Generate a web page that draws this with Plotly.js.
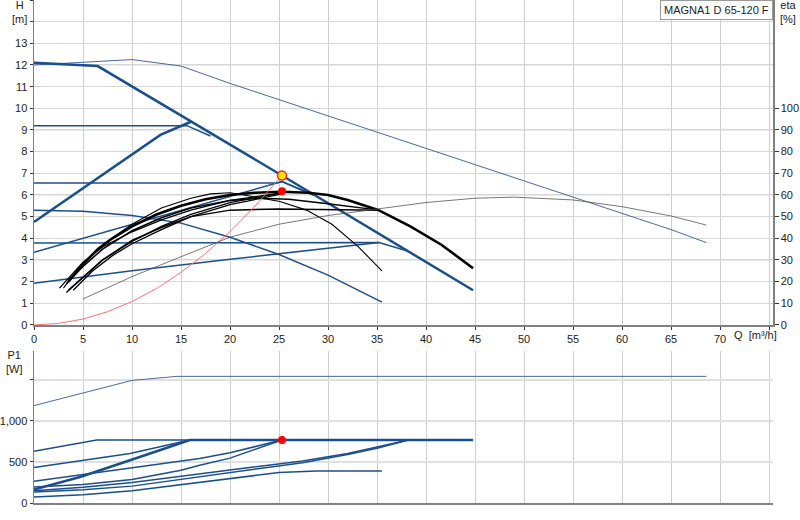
<!DOCTYPE html>
<html>
<head>
<meta charset="utf-8">
<script src="https://cdn.plot.ly/plotly-3.0.1.min.js"></script>
<style>
  html, body { margin: 0; padding: 0; background: #fff; }
  #plot { width: 800px; height: 520px; }
</style>
</head>
<body>
<div id="plot"></div>
<script>
// pump curves, H [m] against Q [m3/h]
const maxQ = [0, 6.5, 25.3, 44.8];
const maxH = [12.1, 11.95, 6.9, 1.6];
const topQ = [0, 10, 15, 20, 25, 30, 35, 40, 47.5, 50, 55, 60, 65, 68.6];
const topH = [12.0, 12.25, 11.95, 11.15, 10.4, 9.65, 8.9, 8.15, 7.0, 6.65, 5.9, 5.15, 4.4, 3.8];
const riseQ = [0, 12.9, 16];
const riseH = [4.75, 8.77, 9.38];
const cp92Q = [0, 15.6, 18];
const cp92H = [9.2, 9.2, 8.72];
const cp65Q = [0, 24.8, 25.3, 28.5];
const cp65H = [6.55, 6.55, 6.62, 6.0];
const pp1Q = [0, 15, 25.3, 28.5];
const pp1H = [3.35, 5.3, 6.62, 6.0];
const lowQ = [0, 5, 10, 15, 20, 25, 30, 35.5];
const lowH = [5.3, 5.25, 5.05, 4.7, 4.05, 3.25, 2.3, 1.05];
const cp38Q = [0, 35.2, 38.2];
const cp38H = [3.78, 3.8, 3.4];
const pp2Q = [0, 10, 20, 35.2];
const pp2H = [1.92, 2.5, 3.03, 3.8];

// black curves
const k1Q = [3.5, 5, 6.5, 8, 10, 12.5, 15, 17.5, 20, 22.5, 25.3, 28, 30, 32, 35.1, 38.4, 41.6, 44.8];
const k1H = [2.0, 2.8, 3.5, 4.0, 4.55, 5.1, 5.5, 5.8, 6.0, 6.1, 6.15, 6.1, 6.0, 5.77, 5.31, 4.55, 3.69, 2.62];
const k2Q = [3, 5, 7, 10, 13, 16, 18, 20, 22, 25.1, 27.8, 30.4, 33.1, 35.5];
const k2H = [1.7, 2.85, 3.7, 4.65, 5.4, 5.85, 6.05, 6.1, 5.95, 5.7, 5.3, 4.65, 3.6, 2.5];
const k3Q = [3.3, 5, 7, 10, 13, 16, 20, 23, 26, 30, 35.2];
const k3H = [1.9, 2.7, 3.5, 4.35, 4.95, 5.4, 5.75, 5.85, 5.8, 5.6, 5.3];
const k4Q = [3.5, 5, 7, 10, 13, 16, 20, 25, 30, 35.2];
const k4H = [1.6, 2.2, 3.0, 3.9, 4.5, 5.0, 5.3, 5.35, 5.33, 5.3];
const k5Q = [2.6, 5, 7, 10, 13, 16, 20, 25.3];
const k5H = [1.7, 2.9, 3.6, 4.3, 4.85, 5.3, 5.75, 6.1];
const k6Q = [3.3, 5, 7, 10, 13, 16, 20, 25.3];
const k6H = [1.5, 2.2, 3.0, 3.85, 4.55, 5.1, 5.65, 6.1];
const k7Q = [4, 6, 8, 10, 13, 16, 20, 25.3];
const k7H = [1.6, 2.5, 3.2, 3.75, 4.4, 5.0, 5.55, 6.05];

// efficiency [%]
const etaQ = [5, 10, 15, 20, 25, 30, 35, 40, 45, 49, 55, 60, 65, 68.6];
const etaV = [12, 22.3, 31.5, 40.5, 46.5, 50.5, 53.5, 56.5, 58.5, 59, 57.7, 54.6, 50.3, 46.1];

// system curve
const sysQ = [0, 2.5, 5, 7.5, 10, 12.5, 15, 17.5, 20, 22.5, 25.3];
const sysH = [0, 0.07, 0.27, 0.61, 1.08, 1.68, 2.43, 3.3, 4.31, 5.46, 6.9];

// duty point
const dutyQ = [25.3];
const dutyH = [6.9];
const dutyEta = [6.17];
const dutyP = [765];

// power P1 [W]
const p1Q = [0, 10, 14.6, 68.6];
const p1V = [1183, 1489, 1538, 1538];
const p2Q = [0, 6.4, 16];
const p2V = [627, 765, 765];
const p3Q = [0, 4.7, 9.8, 15.9, 44.8];
const p3V = [163, 316, 518, 765, 765];
const p4Q = [0, 9.8, 15.9];
const p4V = [430, 600, 765];
const p5Q = [0, 10, 16.9, 20, 25.3];
const p5V = [263, 425, 540, 610, 765];
const p6Q = [0, 5, 10, 15, 16.9, 20, 25.3];
const p6V = [195, 225, 285, 397, 458, 545, 765];
const p7Q = [0, 5, 10, 16.9, 22, 27.4, 32, 35, 38.2];
const p7V = [150, 190, 250, 357, 430, 510, 600, 680, 765];
const p8Q = [0, 5, 10, 16.9, 22, 27.4, 32, 35, 38.2];
const p8V = [134, 160, 205, 316, 400, 490, 590, 665, 765];
const p9Q = [0, 5, 10, 16.9, 20, 25, 28.8, 35.5];
const p9V = [73, 100, 150, 255, 296, 370, 388, 388];

const blue = "#1b4f8c";
const slate = "#4a68a0";

function line(x, y, color, width, xa, ya) {
  return {
    x: x, y: y, mode: "lines", type: "scatter",
    line: { color: color, width: width },
    xaxis: xa || "x", yaxis: ya || "y",
    hoverinfo: "skip", showlegend: false
  };
}

var data = [
  line(topQ, topH, slate, 1),
  line(cp92Q, cp92H, blue, 1.5),
  line(cp65Q, cp65H, blue, 1.5),
  line(pp1Q, pp1H, blue, 1.5),
  line(lowQ, lowH, blue, 1.5),
  line(cp38Q, cp38H, blue, 1.5),
  line(pp2Q, pp2H, blue, 1.5),
  line(riseQ, riseH, blue, 2.5),
  line(maxQ, maxH, blue, 2.5),
  line(etaQ, etaV, "#555555", 0.8, "x", "y2"),
  line(k2Q, k2H, "#000", 1.1),
  line(k3Q, k3H, "#000", 1.5),
  line(k4Q, k4H, "#000", 1.5),
  line(k5Q, k5H, "#000", 1.3),
  line(k6Q, k6H, "#000", 1.3),
  line(k7Q, k7H, "#000", 1.3),
  line(k1Q, k1H, "#000", 2.6),
  line(sysQ, sysH, "#ff7070", 1),
  {
    x: dutyQ, y: dutyEta, mode: "markers", type: "scatter",
    marker: { color: "#ff0000", size: 8 }, hoverinfo: "skip", showlegend: false
  },
  {
    x: dutyQ, y: dutyH, mode: "markers", type: "scatter",
    marker: { color: "#ffe600", size: 9, line: { color: "#ff2020", width: 1.5 } },
    hoverinfo: "skip", showlegend: false
  },
  line(p1Q, p1V, slate, 1, "x2", "y3"),
  line(p2Q, p2V, blue, 1.5, "x2", "y3"),
  line(p4Q, p4V, blue, 1.5, "x2", "y3"),
  line(p5Q, p5V, blue, 1.5, "x2", "y3"),
  line(p6Q, p6V, blue, 1.5, "x2", "y3"),
  line(p7Q, p7V, blue, 1.5, "x2", "y3"),
  line(p8Q, p8V, blue, 1.5, "x2", "y3"),
  line(p9Q, p9V, blue, 1.5, "x2", "y3"),
  line(p3Q, p3V, blue, 2.6, "x2", "y3"),
  {
    x: dutyQ, y: dutyP, mode: "markers", type: "scatter",
    xaxis: "x2", yaxis: "y3",
    marker: { color: "#ff0000", size: 8 }, hoverinfo: "skip", showlegend: false
  }
];

var qTicks = [];
var qText = [];
for (let q = 0; q <= 75; q += 5) {
  qTicks.push(q);
  qText.push(q <= 70 ? String(q) : "");
}
var hTicks = [];
var hText = [];
for (let h = 0; h <= 15; h++) {
  hTicks.push(h);
  hText.push(h <= 13 ? String(h) : "");
}

var layout = {
  width: 800,
  height: 520,
  margin: { l: 34, r: 27, t: 0, b: 17 },
  paper_bgcolor: "#fff",
  plot_bgcolor: "#fff",
  font: { family: "Liberation Sans, Arial, sans-serif", size: 11, color: "#222" },
  showlegend: false,
  xaxis: {
    range: [0, 75.4], anchor: "y",
    tickvals: qTicks, ticktext: qText,
    ticks: "outside", ticklen: 3, tickcolor: "#333",
    showgrid: true, gridcolor: "#cfcfcf", gridwidth: 1,
    showline: true, linecolor: "#808080", linewidth: 2,
    zeroline: false
  },
  yaxis: {
    domain: [0.354, 1], range: [0, 15],
    tickvals: hTicks, ticktext: hText,
    ticks: "outside", ticklen: 3, tickcolor: "#333",
    showgrid: true, gridcolor: "#d6d6d6", gridwidth: 1,
    showline: true, linecolor: "#808080", linewidth: 1.5,
    zeroline: false
  },
  yaxis2: {
    overlaying: "y", side: "right", anchor: "x",
    range: [0, 150],
    tickvals: [0, 10, 20, 30, 40, 50, 60, 70, 80, 90, 100],
    ticks: "outside", ticklen: 4, tickcolor: "#333",
    showgrid: false, zeroline: false,
    minor: { tickvals: [30, 60, 90, 120], ticks: "", showgrid: true,
             gridcolor: "#ebebeb", gridwidth: 2 },
    showline: true, linecolor: "#808080", linewidth: 1.5
  },
  xaxis2: {
    range: [0, 75.4], anchor: "y3", matches: "x",
    tickvals: qTicks, showticklabels: false,
    ticks: "", showgrid: true, gridcolor: "#cfcfcf", gridwidth: 1,
    showline: true, linecolor: "#808080", linewidth: 2,
    zeroline: false
  },
  yaxis3: {
    domain: [0, 0.302], range: [0, 1845],
    tickvals: [0, 500, 1000, 1500], ticktext: ["0", "500", "1,000", ""],
    ticks: "outside", ticklen: 3, tickcolor: "#333",
    showgrid: true, gridcolor: "#e0e0e0", gridwidth: 2,
    showline: true, linecolor: "#808080", linewidth: 1.5,
    zeroline: false
  },
  annotations: [
    { text: "H<br>[m]", xref: "paper", yref: "paper", x: -0.019, y: 1.005,
      xanchor: "center", yanchor: "top", showarrow: false, font: { size: 11 } },
    { text: "eta<br>[%]", xref: "paper", yref: "paper", x: 1.02, y: 1.005,
      xanchor: "center", yanchor: "top", showarrow: false, font: { size: 11 } },
    { text: "Q  [m³/h]", xref: "paper", yref: "paper", x: 0.944, y: 0.334,
      xanchor: "left", yanchor: "middle", showarrow: false, font: { size: 11 } },
    { text: "P1<br>[W]", xref: "paper", yref: "paper", x: -0.026, y: 0.31,
      xanchor: "center", yanchor: "top", showarrow: false, font: { size: 11 } },
    { text: "MAGNA1 D 65-120 F", xref: "paper", yref: "paper", x: 1, y: 1,
      xanchor: "right", yanchor: "top", showarrow: false,
      bgcolor: "#fff", bordercolor: "#999", borderwidth: 1, borderpad: 3,
      font: { size: 11 } }
  ]
};

Plotly.newPlot("plot", data, layout, { staticPlot: true, displayModeBar: false });
</script>
</body>
</html>
